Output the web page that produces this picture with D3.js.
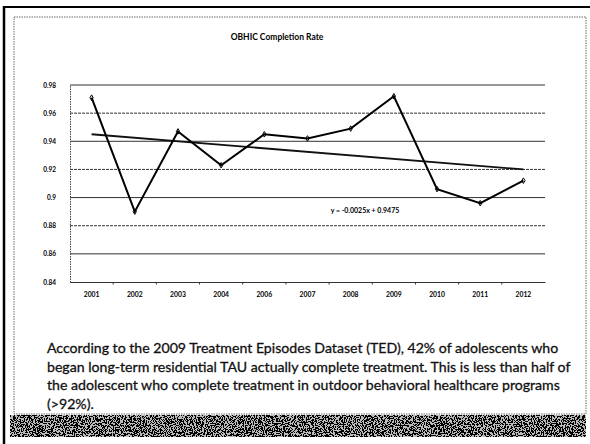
<!DOCTYPE html>
<html>
<head>
<meta charset="utf-8">
<script src="https://cdn.jsdelivr.net/npm/d3@7"></script>
<style>
  html, body { margin:0; padding:0; background:#fff; }
  svg { display:block; }
</style>
</head>
<body>
<svg id="chart" width="590" height="444"></svg>
<script>
const years  = ['2001','2002','2003','2004','2006','2007','2008','2009','2010','2011','2012'];
const rates  = [0.971, 0.890, 0.947, 0.923, 0.945, 0.942, 0.949, 0.972, 0.906, 0.896, 0.912];
const yTicks = [0.84, 0.86, 0.88, 0.9, 0.92, 0.94, 0.96, 0.98];
const trendSlope = -0.0025, trendIntercept = 0.9475;
const trendLabel = 'y = -0.0025x + 0.9475';
const title = 'OBHIC Completion Rate';
const note = [
  'According to the 2009 Treatment Episodes Dataset (TED), 42% of adolescents who',
  'began long-term residential TAU actually complete treatment. This is less than half of',
  'the adolescent who complete treatment in outdoor behavioral healthcare programs',
  '(>92%).'
];

const svg = d3.select('#chart');
const defs = svg.append('defs');

// scanned-looking grey strip at the bottom
const f = defs.append('filter').attr('id','noise').attr('x',0).attr('y',0).attr('width','100%').attr('height','100%');
f.append('feTurbulence').attr('type','fractalNoise').attr('baseFrequency',0.9).attr('numOctaves',2).attr('seed',4).attr('result','t');
f.append('feColorMatrix').attr('in','t').attr('type','matrix')
  .attr('values','0 0 0 0 0  0 0 0 0 0  0 0 0 0 0  1 0 0 0 0').attr('result','a');
f.append('feComponentTransfer').attr('in','a').attr('result','d')
  .append('feFuncA').attr('type','discrete').attr('tableValues','0 0 0 0 0 1 1 1 1 1');
f.append('feComposite').attr('in','d').attr('in2','SourceGraphic').attr('operator','in');

// page frame
svg.append('rect').attr('x',14).attr('y',17).attr('width',572).attr('height',397)
  .attr('fill','none').attr('stroke','#444').attr('stroke-width',0.8).attr('stroke-dasharray','1.5,1');
svg.append('line').attr('x1',4).attr('x2',4).attr('y1',6).attr('y2',444)
  .attr('stroke','#000').attr('stroke-width',2.5);
svg.append('line').attr('x1',3).attr('x2',590).attr('y1',7).attr('y2',7)
  .attr('stroke','#000').attr('stroke-width',2.2);
svg.append('rect').attr('x',10).attr('y',415).attr('width',576).attr('height',22)
  .attr('fill','#bbb');
svg.append('rect').attr('x',10).attr('y',415).attr('width',576).attr('height',22)
  .attr('fill','#000').attr('filter','url(#noise)');

// chart
const margin = { top:85, left:70 };
const w = 475, h = 197;
const g = svg.append('g').attr('transform', `translate(${margin.left},${margin.top})`);

const x = d3.scaleBand().domain(years).range([0,w]);
const y = d3.scaleLinear().domain([0.84,0.98]).range([h,0]);
const cx = d => x(d) + x.bandwidth()/2;

svg.append('text').attr('x',277).attr('y',40).attr('text-anchor','middle')
  .style('font-family','Lato, sans-serif').style('font-weight','bold').style('font-size','8.5px')
  .text(title);

g.selectAll('.grid').data(yTicks.slice(1)).join('line')
  .attr('class','grid')
  .attr('x1',0).attr('x2',w)
  .attr('y1',d=>y(d)).attr('y2',d=>y(d))
  .attr('stroke','#333').attr('stroke-width',1)
  .attr('stroke-dasharray',(d,i)=> i%2===1 ? '3,1' : null);

const yAxis = g.append('g').call(d3.axisLeft(y).tickValues(yTicks).tickSize(0).tickPadding(14).tickFormat(d3.format('')));
yAxis.select('.domain').attr('stroke','#444').attr('stroke-dasharray','1.5,1');
yAxis.selectAll('text').style('font-family','Lato, sans-serif').style('font-weight','bold').style('font-size','6.5px');

const xAxis = g.append('g').attr('transform',`translate(0,${h})`)
  .call(d3.axisBottom(x).tickSize(0).tickPadding(10));
xAxis.select('.domain').attr('stroke','#333').attr('stroke-width',1.2);
xAxis.selectAll('text').style('font-family','Lato, sans-serif').style('font-weight','bold').style('font-size','6.8px');
// small ticks between categories
g.append('g').selectAll('line').data(years.slice(1)).join('line')
  .attr('x1',d=>x(d)).attr('x2',d=>x(d)).attr('y1',h).attr('y2',h+2.5)
  .attr('stroke','#333');

// trendline from the printed equation
const trend = years.map((d,i)=>({ yr:d, v: trendSlope*(i+1) + trendIntercept }));
g.append('path').datum([trend[0], trend[trend.length-1]])
  .attr('fill','none').attr('stroke','#111').attr('stroke-width',1.8)
  .attr('d', d3.line().x(d=>cx(d.yr)).y(d=>y(d.v)));

const pts = years.map((d,i)=>({ yr:d, v:rates[i] }));
g.append('path').datum(pts)
  .attr('fill','none').attr('stroke','#000').attr('stroke-width',2)
  .attr('d', d3.line().x(d=>cx(d.yr)).y(d=>y(d.v)));
g.selectAll('.mk').data(pts).join('path')
  .attr('class','mk')
  .attr('transform',d=>`translate(${cx(d.yr)},${y(d.v)})`)
  .attr('d', d3.symbol(d3.symbolDiamond, 9))
  .attr('fill','none').attr('stroke','#000').attr('stroke-width',1);

g.append('text').attr('x',cx('2008')-20).attr('y',y(0.9)+15)
  .style('font-family','Lato, sans-serif').style('font-weight','bold').style('font-size','7px')
  .text(trendLabel);

// note below the chart
const noteG = svg.append('g').style('font-family','Lato, sans-serif').style('font-size','14px')
  .style('fill','#111').style('stroke','#111').style('stroke-width',0.3);
noteG.selectAll('text').data(note).join('text')
  .attr('x',47).attr('y',(d,i)=>353 + i*18.7)
  .text(d=>d);
const wLong = noteG.selectAll('text').nodes()[1].getComputedTextLength();
noteG.style('font-size', (14*524/wLong).toFixed(2)+'px');
</script>
</body>
</html>
